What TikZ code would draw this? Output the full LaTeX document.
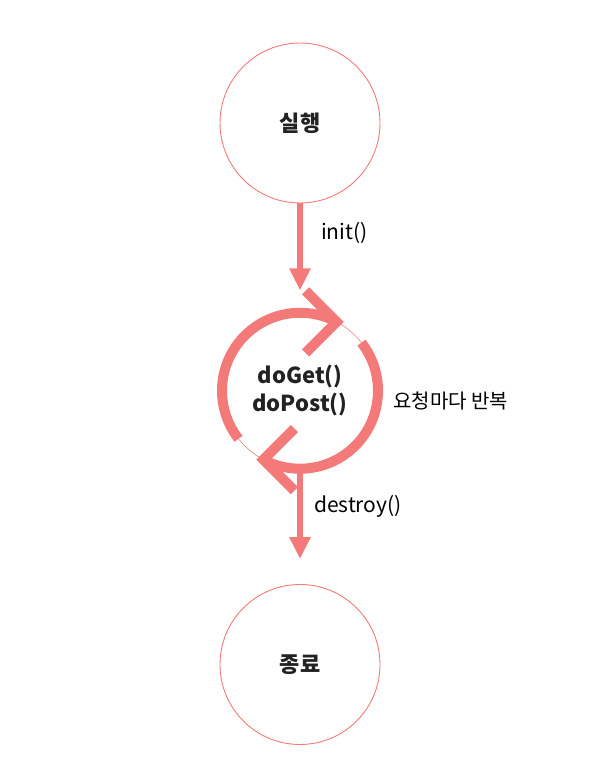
\documentclass[tikz,border=0pt]{standalone}
\usepackage{fontspec}
\setmainfont{Noto Sans CJK KR}
\usetikzlibrary{arrows.meta,positioning}
\definecolor{salmon}{HTML}{F47A7A}
\definecolor{ink}{HTML}{222222}

\begin{document}
\begin{tikzpicture}[
  x=1pt,y=1pt,
  state/.style={circle,draw=salmon,line width=0.9pt,minimum size=160pt,inner sep=0pt,text=ink,font=\fontsize{22}{26}\selectfont\bfseries},
  cycle/.style={circle,draw=salmon,line width=0.6pt,minimum size=156pt,inner sep=0pt,align=center,text=ink,font=\fontsize{22}{28}\selectfont\bfseries},
  loopline/.style={draw=salmon,line width=10pt,miter limit=10},
  arrow/.style={-{Triangle[width=20pt,length=22pt]},line width=6pt,draw=salmon},
  lbl/.style={inner sep=0pt,text=black,font=\fontsize{21}{24}\selectfont}
]
\useasboundingbox (0,0) rectangle (600,777);
\node[state] (run) at (300,654) {실행};
\node[cycle,below=109pt of run] (work) {doGet()\\doPost()};
\node[state,below=115pt of work] (stop) {종료};
\node[lbl,font=\fontsize{20}{24}\selectfont,right=15pt of work,yshift=-10pt] (each) {요청마다 반복};
% repeat loop
\draw[loopline] ([shift={(218:78pt)}]work.center) arc[start angle=218,end angle=62,radius=78pt];
\draw[loopline] ([shift={(62:78pt)}]work.center) +(135:44pt) -- +(0,0) -- +(225:44pt);
\draw[loopline] ([shift={(38:78pt)}]work.center) arc[start angle=38,end angle=-118,radius=78pt];
\draw[loopline] ([shift={(242:78pt)}]work.center) +(45:44pt) -- +(0,0) -- +(-45:44pt);
\draw[arrow] (run) -- node[lbl,pos=0.345,right=18pt] {init()} ([yshift=22pt]work.north);
\draw[arrow] (work) -- node[lbl,pos=0.41,right=11pt] {destroy()} ([yshift=25pt]stop.north);
\end{tikzpicture}
\end{document}
